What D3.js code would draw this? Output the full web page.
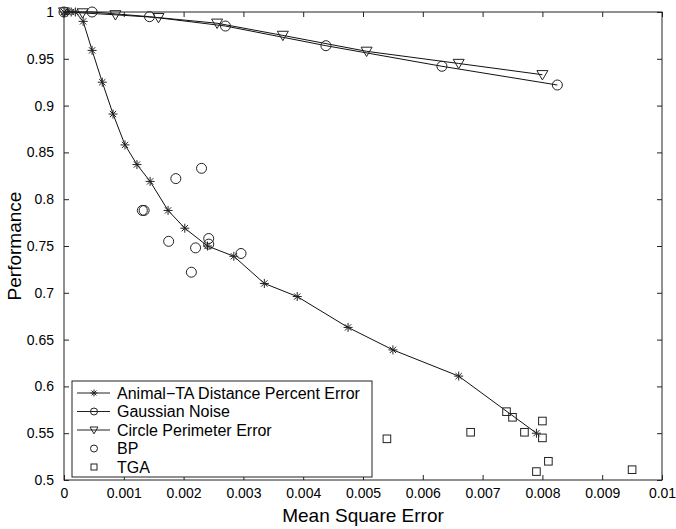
<!DOCTYPE html>
<html>
<head>
<meta charset='utf-8'>
<style>
body { margin: 0; background: #fff; }
text { font-family: 'Liberation Sans', Arial, sans-serif; fill: #000; }
.line { fill: none; stroke: #111; stroke-width: 1px; }
.mark { fill: none; stroke: #222; stroke-width: 1px; }
</style>
<script src='https://d3js.org/d3.v7.min.js'></script>
</head>
<body>
<svg id='chart1' width='676' height='529'></svg>
<script>
// Animal-TA Distance Percent Error (line + stars)
var animalX = [0, 0.00006, 0.00012, 0.00019, 0.00032, 0.00047, 0.00064, 0.00082, 0.00102, 0.00122,
  0.00144, 0.00174, 0.00202, 0.0024, 0.00284, 0.00335, 0.0039, 0.00475, 0.0055, 0.0066, 0.0079];
var animalY = [1, 1, 1, 1, 0.99, 0.959, 0.925, 0.891, 0.858, 0.837,
  0.819, 0.788, 0.769, 0.75, 0.739, 0.71, 0.696, 0.663, 0.639, 0.611, 0.55];

// Gaussian Noise (line + circles)
var gaussX = [0, 0.00047, 0.00143, 0.0027, 0.00438, 0.00632, 0.00825];
var gaussY = [1, 1.0, 0.995, 0.985, 0.964, 0.942, 0.922];

// Circle Perimeter Error (line + down triangles)
var circX = [0, 0.00031, 0.00086, 0.00158, 0.00256, 0.00366, 0.00506, 0.0066, 0.008];
var circY = [1, 0.999, 0.997, 0.994, 0.988, 0.975, 0.958, 0.945, 0.933];

// BP (circles only)
var bpX = [0.0023, 0.00187, 0.00131, 0.00134, 0.00175, 0.00242, 0.00242, 0.0022, 0.00296, 0.00213];
var bpY = [0.833, 0.822, 0.788, 0.788, 0.755, 0.758, 0.752, 0.748, 0.742, 0.722];

// TGA (squares only)
var tgaX = [0.0054, 0.0068, 0.0074, 0.0075, 0.0077, 0.008, 0.008, 0.0081, 0.0079, 0.0095];
var tgaY = [0.544, 0.551, 0.573, 0.567, 0.551, 0.563, 0.545, 0.52, 0.509, 0.511];

var xTicks = [0, 0.001, 0.002, 0.003, 0.004, 0.005, 0.006, 0.007, 0.008, 0.009, 0.01];
var yTicks = [0.5, 0.55, 0.6, 0.65, 0.7, 0.75, 0.8, 0.85, 0.9, 0.95, 1];

var legendNames = ['Animal\u2212TA Distance Percent Error', 'Gaussian Noise', 'Circle Perimeter Error', 'BP', 'TGA'];

var svg = d3.select('svg');
var margin = {top: 12, right: 14, bottom: 49, left: 64};
var width = +svg.attr('width') - margin.left - margin.right;
var height = +svg.attr('height') - margin.top - margin.bottom;

var g = svg.append('g').attr('transform',
    'translate(' + margin.left + ',' + margin.top + ')');

var x = d3.scaleLinear().domain([0, 0.01]).range([0, width]);
var y = d3.scaleLinear().domain([0.5, 1]).range([height, 0]);

function fmt(v) { return String(+v.toFixed(4)); }

// box
g.append('rect').attr('width', width).attr('height', height)
  .attr('fill', 'none').attr('stroke', '#222').attr('stroke-width', 1);

var tl = 5;
g.append('g').attr('transform', 'translate(0,' + height + ')')
  .call(d3.axisBottom(x).tickValues(xTicks).tickFormat(fmt).tickSizeInner(-tl).tickSizeOuter(0).tickPadding(8))
  .call(function(a) { a.select('.domain').remove(); a.selectAll('line').attr('stroke', '#222'); a.selectAll('text').attr('font-size', 14).attr('font-family', null); });
g.append('g')
  .call(d3.axisTop(x).tickValues(xTicks).tickFormat('').tickSizeInner(-tl).tickSizeOuter(0))
  .call(function(a) { a.select('.domain').remove(); a.selectAll('line').attr('stroke', '#222'); });
g.append('g')
  .call(d3.axisLeft(y).tickValues(yTicks).tickFormat(fmt).tickSizeInner(-tl).tickSizeOuter(0).tickPadding(10))
  .call(function(a) { a.select('.domain').remove(); a.selectAll('line').attr('stroke', '#222'); a.selectAll('text').attr('font-size', 14).attr('font-family', null); });
g.append('g').attr('transform', 'translate(' + width + ',0)')
  .call(d3.axisRight(y).tickValues(yTicks).tickFormat('').tickSizeInner(-tl).tickSizeOuter(0))
  .call(function(a) { a.select('.domain').remove(); a.selectAll('line').attr('stroke', '#222'); });

svg.append('text').attr('x', margin.left + width / 2).attr('y', 522)
  .attr('text-anchor', 'middle').attr('font-size', 19).text('Mean Square Error');
svg.append('text').attr('transform', 'translate(21,' + (margin.top + height / 2) + ') rotate(-90)')
  .attr('text-anchor', 'middle').attr('font-size', 19).text('Performance');

function zip(xs, ys) { return xs.map(function(v, i) { return [v, ys[i]]; }); }
var animal = zip(animalX, animalY), gauss = zip(gaussX, gaussY), circ = zip(circX, circY);
var bp = zip(bpX, bpY), tga = zip(tgaX, tgaY);

var line = d3.line().x(function(d) { return x(d[0]); }).y(function(d) { return y(d[1]); });

[animal, gauss, circ].forEach(function(s) {
  g.append('path').datum(s).attr('class', 'line').attr('d', line);
});

function star(sel, s) {
  var r = s;
  sel.append('path').attr('class', 'mark').attr('stroke', '#333')
    .attr('d', 'M' + (-r) + ',0H' + r + 'M0,' + (-r) + 'V' + r +
      'M' + (-r * 0.7) + ',' + (-r * 0.7) + 'L' + (r * 0.7) + ',' + (r * 0.7) +
      'M' + (-r * 0.7) + ',' + (r * 0.7) + 'L' + (r * 0.7) + ',' + (-r * 0.7));
}
function circle(sel, s) { sel.append('circle').attr('class', 'mark').attr('r', s); }
function tri(sel, s) {
  sel.append('path').attr('class', 'mark')
    .attr('d', 'M' + (-s) + ',' + (-s * 0.75) + 'H' + s + 'L0,' + (s * 0.95) + 'Z');
}
function square(sel, s) {
  sel.append('rect').attr('class', 'mark').attr('x', -s).attr('y', -s).attr('width', 2 * s).attr('height', 2 * s);
}

function plotMarks(data, fn, s) {
  g.append('g').selectAll('g').data(data).enter().append('g')
    .attr('transform', function(d) { return 'translate(' + x(d[0]) + ',' + y(d[1]) + ')'; })
    .each(function() { fn(d3.select(this), s); });
}
plotMarks(animal, star, 4.5);
plotMarks(gauss, circle, 5);
plotMarks(circ, tri, 5.5);
plotMarks(bp, circle, 5);
plotMarks(tga, square, 3.8);

// legend
var lg = svg.append('g').attr('transform', 'translate(72,381)');
lg.append('rect').attr('width', 300).attr('height', 96)
  .attr('fill', '#fff').attr('stroke', '#222').attr('stroke-width', 1);
var markFns = [star, circle, tri, circle, square];
var markSizes = [3.5, 3.5, 4, 3.5, 3];
legendNames.forEach(function(name, i) {
  var row = lg.append('g').attr('transform', 'translate(0,' + (12 + i * 18.5) + ')');
  if (i < 3) {
    row.append('line').attr('x1', 5).attr('x2', 38).attr('y1', 0).attr('y2', 0)
      .attr('stroke', '#222').attr('stroke-width', 1);
  }
  var m = row.append('g').attr('transform', 'translate(22,0)');
  markFns[i](m, markSizes[i]);
  row.append('text').attr('x', 45).attr('y', 5.5).attr('font-size', 16).text(name);
});
</script>
</body>
</html>
